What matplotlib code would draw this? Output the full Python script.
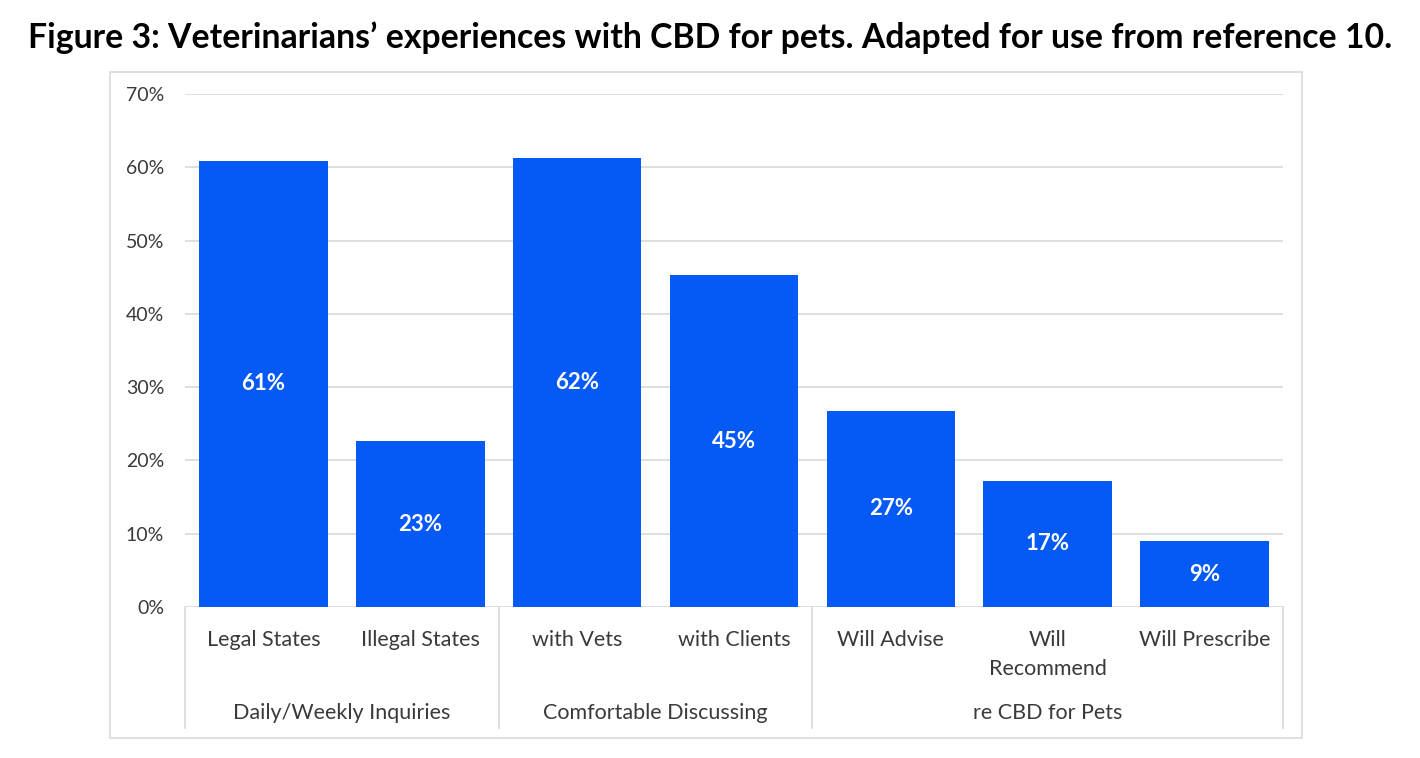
import matplotlib.pyplot as plt
from matplotlib.patches import Rectangle

# data
categories = ["Legal States", "Illegal States", "with Vets", "with Clients",
              "Will Advise", "Will\nRecommend", "Will Prescribe"]
values = [60.9, 22.6, 61.3, 45.3, 26.8, 17.2, 9.0]
value_labels = ["61%", "23%", "62%", "45%", "27%", "17%", "9%"]
groups = ["Daily/Weekly Inquiries", "Comfortable Discussing", "re CBD for Pets"]
group_sizes = [2, 2, 3]
y_ticks = [0, 10, 20, 30, 40, 50, 60, 70]

FONT = "Lato"
BAR_COLOR = "#0559f5"
GRID_COLOR = "#d9d9d9"
TEXT_COLOR = "#3a3a3a"

plt.rcParams["font.family"] = [FONT, "DejaVu Sans"]

fig = plt.figure(figsize=(14.2, 7.58), dpi=100)
fig.patch.set_facecolor("white")

# chart frame
fig.patches.append(Rectangle((0.0775, 0.0264), 0.8394, 0.8786, transform=fig.transFigure,
                             fill=False, edgecolor="#d9d9d9", linewidth=1.2))

fig.text(0.5, 0.937, "Figure 3: Veterinarians\u2019 experiences with CBD for pets. "
         "Adapted for use from reference 10.",
         ha="center", va="baseline", fontsize=24.3, fontweight="bold", color="black")

ax = fig.add_axes([0.1303, 0.1992, 0.7732, 0.6768])
x = list(range(len(categories)))
bars = ax.bar(x, values, width=0.82, color=BAR_COLOR, zorder=3)

for rect, lab in zip(bars, value_labels):
    ax.text(rect.get_x() + rect.get_width() / 2, rect.get_height() / 2, lab,
            ha="center", va="center", color="white", fontsize=16,
            fontweight="bold", zorder=4)

ax.set_xlim(-0.5, len(categories) - 0.5)
ax.set_ylim(0, 70)
ax.set_yticks(y_ticks)
ax.set_yticklabels([f"{t}%" for t in y_ticks])
ax.tick_params(axis="y", length=0, pad=15, labelsize=14, labelcolor=TEXT_COLOR)
ax.set_xticks([])
ax.grid(axis="y", color=GRID_COLOR, linewidth=1.2, zorder=0)
for s in ax.spines.values():
    s.set_visible(False)

trans = ax.get_xaxis_transform()
for xi, cat in zip(x, categories):
    ax.text(xi, -0.044, cat, transform=trans, ha="center", va="top",
            fontsize=15.5, color=TEXT_COLOR, linespacing=1.6)

# group separators and labels
bounds = [-0.5]
for n in group_sizes:
    bounds.append(bounds[-1] + n)
for b in bounds:
    ax.plot([b, b], [0, -0.236], transform=trans, color=GRID_COLOR,
            linewidth=1.2, clip_on=False)
for g, lo, hi in zip(groups, bounds[:-1], bounds[1:]):
    ax.text((lo + hi) / 2, -0.2066, g, transform=trans, ha="center", va="center",
            fontsize=15.5, color=TEXT_COLOR)

fig.savefig("out.png", dpi=100, facecolor="white")
